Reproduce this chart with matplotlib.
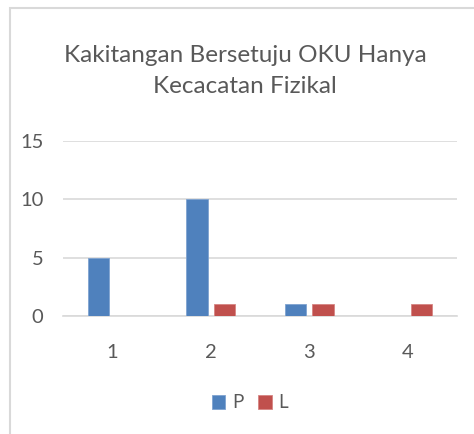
import numpy as np
import matplotlib.pyplot as plt
from matplotlib.patches import Rectangle

# data
categories = ["1", "2", "3", "4"]
p_values = [5, 10, 1, 0]
l_values = [0, 1, 1, 1]
y_ticks = [0, 5, 10, 15]

W, H = 474, 434
fig = plt.figure(figsize=(W / 100, H / 100), dpi=100)
plt.rcParams['font.family'] = ['Lato', 'DejaVu Sans']
text_color = '#595959'
grid_color = '#D9D9D9'

# chart frame (light gray, runs off right/bottom)
fig.patches.append(Rectangle((10 / W, -0.1), 1.2, (H - 8) / H + 0.1,
                             transform=fig.transFigure, fill=False,
                             edgecolor='#D9D9D9', linewidth=1.5))

ax = fig.add_axes([63 / W, (H - 316) / H, (457 - 63) / W, 175 / H])
x = np.arange(1, len(categories) + 1)
w = 0.22
ax.bar(x - 0.14, p_values, w, color='#4F81BD', edgecolor='#7FA3D0', linewidth=0.6, label='P', zorder=3)
ax.bar(x + 0.14, l_values, w, color='#C0504D', edgecolor='#D68583', linewidth=0.6, label='L', zorder=3)

ax.set_xlim(0.5, 4.5)
ax.set_ylim(0, 15)
ax.set_yticks(y_ticks)
ax.set_xticks(x)
ax.set_xticklabels(categories)
ax.yaxis.grid(True, color=grid_color, linewidth=1.2)
ax.set_axisbelow(True)
for s in ['top', 'right', 'left']:
    ax.spines[s].set_visible(False)
ax.spines['bottom'].set_color(grid_color)
ax.spines['bottom'].set_linewidth(1.2)
ax.tick_params(axis='both', length=0, labelsize=14.5, labelcolor=text_color)
ax.tick_params(axis='y', pad=14)
ax.tick_params(axis='x', pad=20)

fig.text(245 / W, 1 - 71 / H, "Kakitangan Bersetuju OKU Hanya\nKecacatan Fizikal",
         ha='center', va='center', fontsize=17.5, color=text_color, linespacing=1.55)

ax.legend(loc='center', bbox_to_anchor=(250 / W, 1 - 403 / H), bbox_transform=fig.transFigure,
          ncol=2, frameon=False, fontsize=13.5, labelcolor=text_color,
          handlelength=0.7, handleheight=0.7, handletextpad=0.35, columnspacing=0.8)

fig.savefig("out.png", dpi=100)
